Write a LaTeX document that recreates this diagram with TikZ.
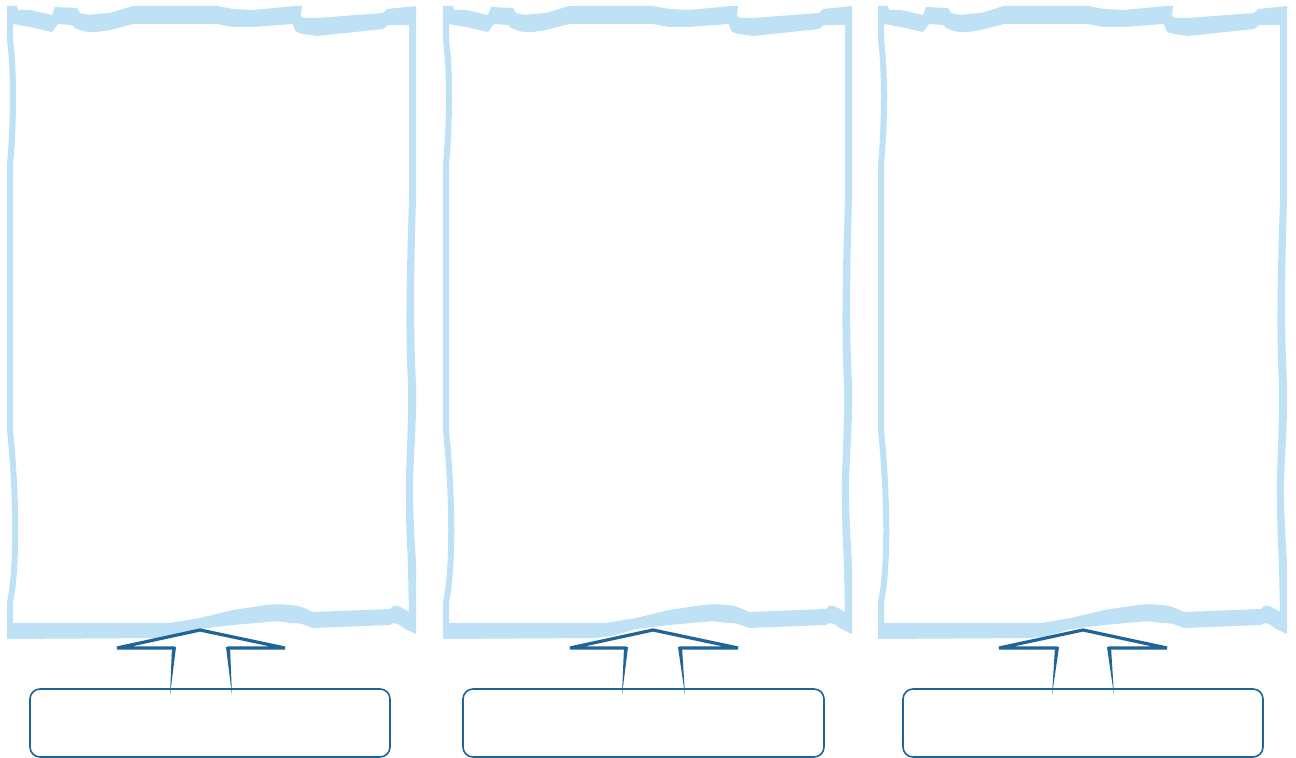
\documentclass[tikz,border=0pt]{standalone}
\usetikzlibrary{calc}
\definecolor{framecol}{HTML}{BEE1F6}
\definecolor{arrowcol}{HTML}{1E6496}
\tikzset{
  framefill/.style={fill=framecol, even odd rule},
  panelbox/.style={draw=arrowcol, line width=0.8pt, rounded corners=5pt, fill=white, minimum width=180pt, minimum height=34pt, inner sep=0pt},
  blockarrow/.style={draw=arrowcol, line width=1.6pt, line join=miter, miter limit=2, line cap=round},
  shaft/.style={fill=arrowcol}
}
\newcommand{\wavyframe}{%
  \fill[framefill]
   (7,6) -- (17,6) -- (18,10) -- (30,10) -- (52,15) -- (55,7) -- (77,8) -- (80,13)
   .. controls (88,15) .. (97,14) -- (110,13) -- (133,6) -- (217,6) -- (233,9) -- (253,10)
   -- (295,6) -- (302,6) -- (301,15) .. controls (302,18) .. (317,18) -- (383,13) -- (387,9) -- (416,6)
   -- (416,200) .. controls (414,260) and (413,330) .. (416,383)
   .. controls (417,430) and (412,470) .. (413,500)
   .. controls (414,540) and (416,555) .. (416,568) -- (416,634)
   -- (405,629) -- (398,624) -- (393,623) -- (390,625) -- (313,628)
   .. controls (300,623) .. (290,623) .. controls (278,621) .. (267,622)
   -- (233,625) -- (200,629) -- (175,636) -- (160,638) -- (7,639)
   -- (7,602) .. controls (14,570) and (14,500) .. (7,430) -- (7,165)
   .. controls (11,120) and (11,70) .. (7,40) -- cycle
   (13,24) -- (30,27) -- (52,32) -- (58,24) -- (72,25) -- (75,28)
   .. controls (85,32) .. (97,32) -- (110,30) -- (133,24) -- (217,24) -- (233,27) -- (253,27)
   -- (293,24) .. controls (295,32) .. (303,34) -- (317,36) -- (383,29) -- (388,25) -- (409,25)
   -- (409,200) .. controls (407,260) and (405,330) .. (408,383)
   .. controls (409,430) and (405,470) .. (406,500)
   .. controls (406,540) and (408,555) .. (408,568) -- (409,612)
   -- (404,609) -- (398,606) -- (393,606) -- (390,609) -- (313,612)
   .. controls (300,606) .. (290,605) .. controls (278,604) .. (267,605)
   -- (233,610) -- (200,618) -- (170,623) -- (13,623)
   -- (13,602) .. controls (20,570) and (20,500) .. (13,430) -- (13,165)
   .. controls (17,120) and (17,70) .. (13,40) -- cycle;
}
\begin{document}
\begin{tikzpicture}[x=0.5pt, y=-0.5pt]
\useasboundingbox (0,0) rectangle (1296,758);
% frames
\begin{scope}\wavyframe\end{scope}
\begin{scope}[shift={(436,0)}]\wavyframe\end{scope}
\begin{scope}[shift={(871,0)}]\wavyframe\end{scope}
% boxes
\node[panelbox] (b1) at (210,723) {};
\node[panelbox, minimum width=180.5pt] (b2) at (643.5,723) {};
\node[panelbox] (b3) at (1083,723) {};
% arrow tips (touching frames)
\coordinate (t1) at (200,630);
\coordinate (t2) at (653,630);
\coordinate (t3) at (1083,630);
% arrows
\foreach \t/\hl/\hr/\slt/\slb/\srt/\srb in {t1/117/285/174/170/228/232, t2/570/738/626/622/680/685, t3/999/1167/1057/1052/1109/1114}{
  \draw[blockarrow] (\slt,648) -- (\hl,648) -- (\t) -- (\hr,648) -- (\srt,648);
  \fill[shaft] ($(\slt,647)+(-2,0)$) -- ($(\slt,647)+(2,0)$) -- (\slb,695) -- cycle;
  \fill[shaft] ($(\srt,647)+(-2,0)$) -- ($(\srt,647)+(2,0)$) -- (\srb,695) -- cycle;
}
\end{tikzpicture}
\end{document}
